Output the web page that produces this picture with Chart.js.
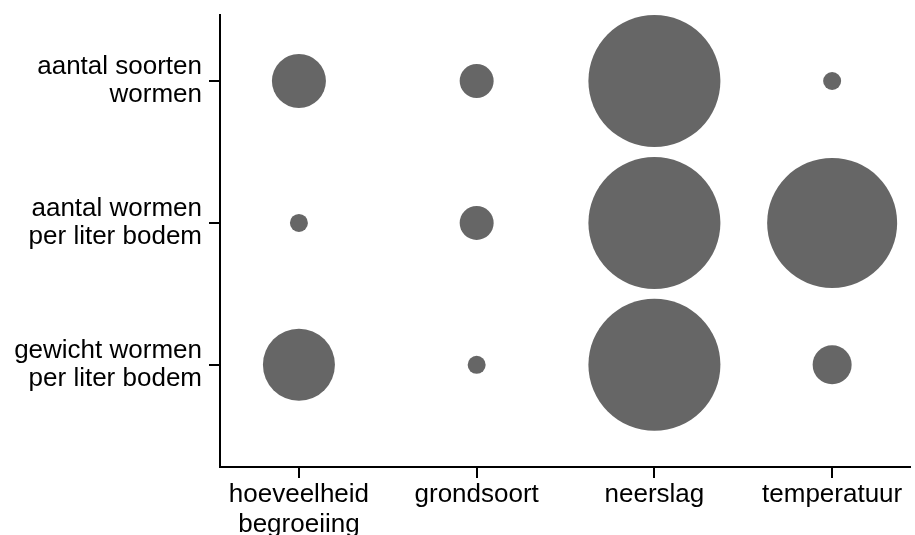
<!DOCTYPE html>
<html>
<head>
<meta charset="utf-8">
<script src="https://cdn.jsdelivr.net/npm/chart.js@4"></script>
<style>
  html, body { margin: 0; padding: 0; background: #fff; }
  #wrap { width: 915px; height: 535px; }
</style>
</head>
<body>
<div id="wrap"><canvas id="chart"></canvas></div>
<script>
const factoren = [['hoeveelheid', 'begroeiing'], 'grondsoort', 'neerslag', 'temperatuur'];
const kenmerken = [['aantal soorten', 'wormen'], ['aantal wormen', 'per liter bodem'], ['gewicht wormen', 'per liter bodem']];

// relatieve grootte van elke cirkel (per kenmerk, per factor)
const soortenWormen = [27, 17, 66, 9];
const aantalWormen = [9, 17, 66, 65];
const gewichtWormen = [36, 9, 66, 19.5];
const rijen = [soortenWormen, aantalWormen, gewichtWormen];

const punten = [];
rijen.forEach((rij, y) => {
  rij.forEach((grootte, x) => punten.push({ x: x, y: y, r: grootte }));
});

const family = '"Liberation Sans", Arial, sans-serif';

new Chart(document.getElementById('chart'), {
  type: 'bubble',
  data: {
    datasets: [{
      data: punten,
      backgroundColor: '#666666',
      borderWidth: 0,
      hoverRadius: 0,
      clip: false
    }]
  },
  options: {
    responsive: true,
    maintainAspectRatio: false,
    animation: false,
    events: [],
    layout: { autoPadding: false, padding: { top: 15, right: 5, left: 0, bottom: 0 } },
    plugins: {
      legend: { display: false },
      tooltip: { enabled: false }
    },
    scales: {
      x: {
        type: 'linear',
        min: -0.444,
        max: 3.438,
        afterBuildTicks: (scale) => { scale.ticks = factoren.map((_, i) => ({ value: i })); },
        afterFit: (scale) => {
          scale.height = 68;
          scale.paddingLeft = 0;
          scale.paddingRight = 0;
        },
        grid: { drawOnChartArea: false, drawTicks: true, tickLength: 11, color: '#000', lineWidth: 2 },
        border: { display: true, color: '#000', width: 2 },
        ticks: {
          autoSkip: false,
          maxRotation: 0,
          padding: 2,
          color: '#000',
          font: { family: family, size: 26, lineHeight: 1.15 },
          callback: (v) => factoren[v]
        }
      },
      y: {
        type: 'linear',
        reverse: true,
        min: -0.465,
        max: 2.72,
        afterBuildTicks: (scale) => { scale.ticks = kenmerken.map((_, i) => ({ value: i })); },
        afterFit: (scale) => {
          scale.width = 220;
          scale.paddingTop = 0;
          scale.paddingBottom = 0;
        },
        grid: { drawOnChartArea: false, drawTicks: true, tickLength: 11, color: '#000', lineWidth: 2 },
        border: { display: true, color: '#000', width: 2 },
        ticks: {
          autoSkip: false,
          padding: 7,
          color: '#000',
          font: { family: family, size: 26, lineHeight: 1.08 },
          callback: (v) => kenmerken[v]
        }
      }
    }
  }
});
</script>
</body>
</html>
